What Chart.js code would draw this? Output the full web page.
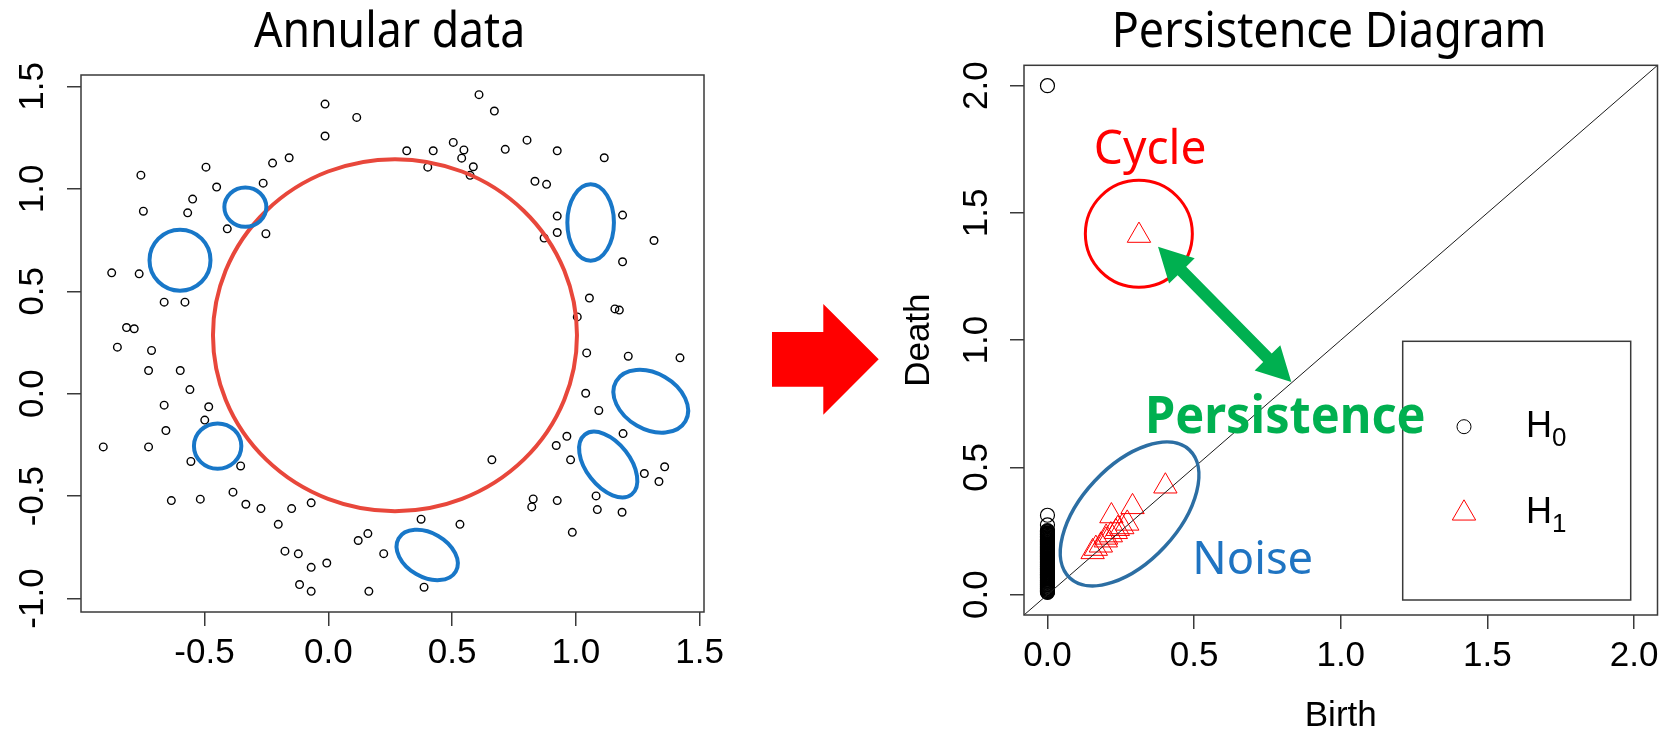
<!DOCTYPE html>
<html>
<head>
<meta charset="utf-8">
<title>Annular data / Persistence Diagram</title>
<script src="https://cdn.jsdelivr.net/npm/chart.js@4.4.1/dist/chart.umd.min.js"></script>
<style>
  html, body { margin: 0; padding: 0; background: #fff; overflow: hidden; }
  #wrap { position: relative; width: 1672px; height: 731px; }
  canvas { position: absolute; top: 0; }
  #annular { left: 0; }
  #diagram { left: 880px; }
</style>
</head>
<body>
<div id="wrap">
  <canvas id="annular" width="880" height="731"></canvas>
  <canvas id="diagram" width="792" height="731"></canvas>
</div>
<script>
// ---- left plot: the annulus sample ----
var leftX = [-0.013, 0.115, -0.013, -0.757, -0.494, -0.158, -0.225, -0.263, -0.451, -0.548, -0.747, -0.568, -0.408, -0.252, -0.875, -0.764, -0.663, -0.579, -0.815, -0.784, -0.852, -0.714,
  0.609, 0.671, 0.317, 0.424, 0.505, 0.548, 0.539, 0.402, 0.586, 0.573, 0.715, 0.803, 0.925, 1.115, 0.835, 0.882, 0.925, 0.925, 0.872, 1.189, 1.316, 1.189, 1.055, 1.158, 1.176, 1.006, 1.044, 1.212, 1.421,
  -0.726, -0.598, -0.559, -0.663, -0.483, -0.499, -0.656, -0.909, -0.726, -0.555, -0.354, -0.634, -0.517, -0.385, -0.333, -0.272, -0.148, -0.069, -0.202, -0.175, -0.121, -0.069, -0.006, -0.116, -0.069, 0.121, 0.160, 0.164, 0.224,
  0.375, 0.532, 0.387, 0.661, 1.040, 1.093, 0.964, 0.921, 0.979, 1.191, 1.277, 1.359, 1.336, 0.828, 0.822, 0.925, 1.082, 1.087, 1.187, 0.986];
var leftY = [1.414, 1.349, 1.258, 1.067, 1.106, 1.152, 1.126, 1.028, 1.009, 0.950, 0.891, 0.883, 0.805, 0.781, 0.590, 0.585, 0.447, 0.447, 0.323, 0.317, 0.227, 0.211,
  1.460, 1.380, 1.186, 1.186, 1.227, 1.190, 1.150, 1.106, 1.108, 1.066, 1.193, 1.238, 1.186, 1.152, 1.037, 1.022, 0.867, 0.787, 0.760, 0.872, 0.748, 0.644, 0.467, 0.414, 0.408, 0.375, 0.199, 0.183, 0.175,
  0.113, 0.113, 0.020, -0.056, -0.064, -0.129, -0.180, -0.260, -0.260, -0.331, -0.353, -0.522, -0.515, -0.481, -0.540, -0.561, -0.561, -0.533, -0.638, -0.769, -0.782, -0.848, -0.827, -0.932, -0.965, -0.717, -0.683, -0.965, -0.781,
  -0.613, -0.638, -0.945, -0.323, 0.002, -0.082, -0.208, -0.253, -0.323, -0.195, -0.390, -0.357, -0.429, -0.514, -0.553, -0.522, -0.499, -0.566, -0.579, -0.677];
var leftXTicks = [-0.5, 0.0, 0.5, 1.0, 1.5];
var leftYTicks = [-1.0, -0.5, 0.0, 0.5, 1.0, 1.5];

// ---- right plot: persistence diagram ----
// every H0 class is born at 0
var h0Birth = [0, 0, 0, 0, 0, 0, 0, 0, 0, 0, 0, 0, 0, 0, 0, 0, 0, 0, 0, 0, 0, 0, 0, 0, 0, 0, 0, 0, 0, 0, 0, 0, 0, 0, 0, 0, 0, 0, 0, 0, 0, 0, 0, 0, 0, 0, 0, 0, 0, 0,
  0, 0, 0, 0, 0, 0, 0, 0, 0, 0, 0, 0, 0, 0, 0, 0, 0, 0, 0, 0, 0, 0, 0, 0, 0, 0, 0, 0, 0, 0, 0, 0, 0, 0, 0, 0, 0, 0, 0, 0, 0, 0, 0, 0, 0, 0, 0, 0, 0, 0];
var h0Death = [2.0, 0.312, 0.274, 0.252, 0.249, 0.247, 0.243, 0.241, 0.238, 0.236, 0.233, 0.229, 0.227, 0.224, 0.222, 0.218, 0.216, 0.213, 0.211, 0.208, 0.205,
  0.203, 0.201, 0.198, 0.196, 0.193, 0.190, 0.188, 0.186, 0.184, 0.181, 0.179, 0.177, 0.174, 0.172, 0.170, 0.168, 0.165, 0.163, 0.161, 0.158,
  0.156, 0.154, 0.151, 0.149, 0.146, 0.144, 0.142, 0.139, 0.137, 0.135, 0.132, 0.129, 0.127, 0.125, 0.122, 0.119, 0.117, 0.114, 0.112, 0.110,
  0.107, 0.104, 0.102, 0.099, 0.097, 0.095, 0.092, 0.089, 0.087, 0.084, 0.081, 0.079, 0.077, 0.074, 0.071, 0.068, 0.066, 0.064, 0.061, 0.058,
  0.055, 0.053, 0.050, 0.048, 0.045, 0.042, 0.039, 0.037, 0.034, 0.032, 0.029, 0.026, 0.024, 0.021, 0.018, 0.016, 0.013, 0.011, 0.009];
var h1Birth = [0.312, 0.402, 0.290, 0.218, 0.272, 0.255, 0.240, 0.233, 0.216, 0.200, 0.199, 0.182, 0.165, 0.154];
var h1Death = [1.411, 0.426, 0.345, 0.309, 0.280, 0.266, 0.259, 0.247, 0.234, 0.225, 0.214, 0.194, 0.181, 0.168];
var pdTicks = [0.0, 0.5, 1.0, 1.5, 2.0];

Chart.defaults.font.family = '"Liberation Sans", Arial, sans-serif';
Chart.defaults.color = '#000';

var boxColor = '#3a3a3a';

function pairs(xs, ys) {
  var out = [];
  for (var i = 0; i < xs.length; i++) {
    out.push({x: xs[i], y: ys[i]});
  }
  return out;
}

function drawBox(ctx, x, y, w, h) {
  ctx.save();
  ctx.strokeStyle = boxColor;
  ctx.lineWidth = 1.5;
  ctx.strokeRect(x, y, w, h);
  ctx.restore();
}

function ring(ctx, cx, cy, rx, ry, rotDeg, color, width) {
  ctx.save();
  ctx.beginPath();
  ctx.ellipse(cx, cy, rx, ry, rotDeg * Math.PI / 180, 0, Math.PI * 2);
  ctx.strokeStyle = color;
  ctx.lineWidth = width;
  ctx.stroke();
  ctx.restore();
}

// text squeezed so its ink is `width` px wide (the original font is narrower than Noto Sans)
function drawText(ctx, text, x, y, font, color, width, align) {
  ctx.save();
  ctx.font = font;
  ctx.fillStyle = color;
  ctx.textAlign = 'left';
  ctx.textBaseline = 'alphabetic';
  var m = ctx.measureText(text);
  var ink = m.actualBoundingBoxLeft + m.actualBoundingBoxRight;
  var sx = width ? width / ink : 1;
  var left = align === 'center' ? x - ink * sx / 2 : x;
  ctx.translate(left + m.actualBoundingBoxLeft * sx, y);
  ctx.scale(sx, 1);
  ctx.fillText(text, 0, 0);
  ctx.restore();
}

function triangle(ctx, x, y, r, color) {
  ctx.save();
  ctx.beginPath();
  ctx.moveTo(x, y - r);
  ctx.lineTo(x + 0.866 * r, y + 0.5 * r);
  ctx.lineTo(x - 0.866 * r, y + 0.5 * r);
  ctx.closePath();
  ctx.strokeStyle = color;
  ctx.lineWidth = 1;
  ctx.stroke();
  ctx.restore();
}

function tickGrid() {
  return { display: true, drawOnChartArea: false, drawTicks: true, tickLength: 14, color: boxColor, lineWidth: 1.5 };
}

var leftDecor = {
  id: 'leftDecor',
  afterDraw: function (chart) {
    var ctx = chart.ctx, a = chart.chartArea, xs = chart.scales.x, ys = chart.scales.y;
    drawBox(ctx, a.left, a.top, a.right - a.left, a.bottom - a.top);

    // the big hole
    ring(ctx, xs.getPixelForValue(0.2695), ys.getPixelForValue(0.2858), 182, 176, 0, '#e8473b', 4);

    // small holes (noise)
    var holes = [
      [-0.599, 0.652, 30.5, 30.5, 0],
      [-0.335, 0.911, 21, 19.7, 0],
      [1.060, 0.836, 23.3, 38.2, 0],
      [-0.447, -0.256, 23.7, 22.7, 0],
      [1.303, -0.037, 40, 28, 30],
      [1.131, -0.346, 38, 22, 52],
      [0.3996, -0.7875, 33, 22, 30]
    ];
    holes.forEach(function (h) {
      ring(ctx, xs.getPixelForValue(h[0]), ys.getPixelForValue(h[1]), h[2], h[3], h[4], '#1877c8', 4);
    });

    drawText(ctx, 'Annular data', 254, 46.7, '49px "Noto Sans"', '#000', 268);

    // block arrow between the two plots
    ctx.save();
    ctx.fillStyle = '#ff0000';
    ctx.beginPath();
    ctx.moveTo(772, 332);
    ctx.lineTo(823.3, 332);
    ctx.lineTo(823.3, 304);
    ctx.lineTo(878.7, 359.3);
    ctx.lineTo(823.3, 414.7);
    ctx.lineTo(823.3, 386.7);
    ctx.lineTo(772, 386.7);
    ctx.closePath();
    ctx.fill();
    ctx.restore();
  }
};

var diagramDecor = {
  id: 'diagramDecor',
  afterDatasetsDraw: function (chart) {
    // birth = death line
    var ctx = chart.ctx, a = chart.chartArea, xs = chart.scales.x, ys = chart.scales.y;
    var lo = Math.max(xs.min, ys.min), hi = Math.min(xs.max, ys.max);
    ctx.save();
    ctx.beginPath();
    ctx.rect(a.left, a.top, a.right - a.left, a.bottom - a.top);
    ctx.clip();
    ctx.strokeStyle = '#1a1a1a';
    ctx.lineWidth = 1;
    ctx.beginPath();
    ctx.moveTo(xs.getPixelForValue(lo), ys.getPixelForValue(lo));
    ctx.lineTo(xs.getPixelForValue(hi), ys.getPixelForValue(hi));
    ctx.stroke();
    ctx.restore();
  },
  afterDraw: function (chart) {
    var ctx = chart.ctx, a = chart.chartArea, xs = chart.scales.x, ys = chart.scales.y;
    drawBox(ctx, a.left, a.top, a.right - a.left, a.bottom - a.top);

    // legend
    drawBox(ctx, a.left + 378.7, a.top + 276, 228, 258.7);
    ctx.save();
    ctx.beginPath();
    ctx.arc(a.left + 440, a.top + 361.4, 7, 0, Math.PI * 2);
    ctx.strokeStyle = '#000';
    ctx.lineWidth = 1;
    ctx.stroke();
    ctx.restore();
    triangle(ctx, a.left + 440, a.top + 448, 13.5, '#ff0000');
    ctx.save();
    ctx.fillStyle = '#000';
    ctx.textAlign = 'left';
    ctx.textBaseline = 'alphabetic';
    ['0', '1'].forEach(function (sub, i) {
      var bx = a.left + 502, by = a.top + 372 + i * 86;
      ctx.font = '36px "Liberation Sans", Arial, sans-serif';
      ctx.fillText('H', bx, by);
      var hw = ctx.measureText('H').width;
      ctx.font = '26px "Liberation Sans", Arial, sans-serif';
      ctx.fillText(sub, bx + hw, by + 8.4);
    });
    ctx.restore();

    // annotations
    ring(ctx, xs.getPixelForValue(0.3116), ys.getPixelForValue(1.418), 53.5, 53.5, 0, '#ff0000', 3);
    ring(ctx, xs.getPixelForValue(0.280), ys.getPixelForValue(0.317), 87.6, 48, -47, '#2c6ea3', 3.5);
    drawText(ctx, 'Cycle', xs.getPixelForValue(0.350), ys.getPixelForValue(1.694), '48px "Noto Sans"', '#ff0000', 108.7, 'center');
    drawText(ctx, 'Noise', xs.getPixelForValue(0.5074), ys.getPixelForValue(0.0828), '46px "Noto Sans"', '#1f74c2', 115);

    // double arrow = persistence
    var p1 = {x: xs.getPixelForValue(0.377), y: ys.getPixelForValue(1.367)};
    var p2 = {x: xs.getPixelForValue(0.8315), y: ys.getPixelForValue(0.8355)};
    var dx = p2.x - p1.x, dy = p2.y - p1.y, len = Math.sqrt(dx * dx + dy * dy);
    var ux = dx / len, uy = dy / len, nx = -uy, ny = ux;
    var hl = 34, hw = 18, sw = 6;
    var pts = [
      [p1.x, p1.y],
      [p1.x + ux * hl + nx * hw, p1.y + uy * hl + ny * hw],
      [p1.x + ux * hl + nx * sw, p1.y + uy * hl + ny * sw],
      [p2.x - ux * hl + nx * sw, p2.y - uy * hl + ny * sw],
      [p2.x - ux * hl + nx * hw, p2.y - uy * hl + ny * hw],
      [p2.x, p2.y],
      [p2.x - ux * hl - nx * hw, p2.y - uy * hl - ny * hw],
      [p2.x - ux * hl - nx * sw, p2.y - uy * hl - ny * sw],
      [p1.x + ux * hl - nx * sw, p1.y + uy * hl - ny * sw],
      [p1.x + ux * hl - nx * hw, p1.y + uy * hl - ny * hw]
    ];
    ctx.save();
    ctx.fillStyle = '#00b050';
    ctx.beginPath();
    pts.forEach(function (p, i) { if (i === 0) ctx.moveTo(p[0], p[1]); else ctx.lineTo(p[0], p[1]); });
    ctx.closePath();
    ctx.fill();
    ctx.restore();
    drawText(ctx, 'Persistence', xs.getPixelForValue(0.3454), ys.getPixelForValue(0.634), 'bold 52px "Noto Sans"', '#00b050', 275);

    drawText(ctx, 'Persistence Diagram', 235.4, 46.7, '49px "Noto Sans"', '#000', 427.6);
  }
};

new Chart(document.getElementById('annular'), {
  type: 'scatter',
  data: {
    datasets: [{
      label: 'Annular data',
      data: pairs(leftX, leftY),
      pointStyle: 'circle',
      pointRadius: 3.8,
      pointHoverRadius: 3.8,
      pointBorderWidth: 1.4,
      pointBorderColor: '#000',
      pointBackgroundColor: 'rgba(0,0,0,0)'
    }]
  },
  options: {
    responsive: false,
    animation: false,
    layout: { padding: { top: 75, right: 176, bottom: 0, left: 0 } },
    plugins: { legend: { display: false }, tooltip: { enabled: false } },
    scales: {
      x: {
        type: 'linear', min: -0.999, max: 1.518,
        afterBuildTicks: function (s) { s.ticks = leftXTicks.map(function (v) { return {value: v}; }); },
        afterFit: function (s) { s.height = 119; },
        ticks: { autoSkip: false, padding: 6, font: { size: 35 }, callback: function (v) { return Number(v).toFixed(1); } },
        grid: tickGrid(),
        border: { display: false }
      },
      y: {
        type: 'linear', min: -1.066, max: 1.556,
        afterBuildTicks: function (s) { s.ticks = leftYTicks.map(function (v) { return {value: v}; }); },
        afterFit: function (s) { s.width = 81; },
        ticks: { autoSkip: false, minRotation: 90, maxRotation: 90, crossAlign: 'center', padding: 4, font: { size: 35 }, callback: function (v) { return Number(v).toFixed(1); } },
        grid: tickGrid(),
        border: { display: false }
      }
    }
  },
  plugins: [leftDecor]
});

new Chart(document.getElementById('diagram'), {
  type: 'scatter',
  data: {
    datasets: [{
      label: 'H0',
      data: pairs(h0Birth, h0Death),
      pointStyle: 'circle',
      pointRadius: 7,
      pointHoverRadius: 7,
      pointBorderWidth: 1.2,
      pointBorderColor: '#000',
      pointBackgroundColor: 'rgba(0,0,0,0)'
    }, {
      label: 'H1',
      data: pairs(h1Birth, h1Death),
      pointStyle: 'triangle',
      pointRadius: 13.5,
      pointHoverRadius: 13.5,
      pointBorderWidth: 1,
      pointBorderColor: '#ff0000',
      pointBackgroundColor: 'rgba(0,0,0,0)'
    }]
  },
  options: {
    responsive: false,
    animation: false,
    layout: { padding: { top: 65.3, right: 8.7, bottom: 0, left: 0 } },
    plugins: { legend: { display: false }, tooltip: { enabled: false } },
    scales: {
      x: {
        type: 'linear', min: -0.08, max: 2.08,
        afterBuildTicks: function (s) { s.ticks = pdTicks.map(function (v) { return {value: v}; }); },
        afterFit: function (s) { s.height = 116; },
        title: { display: true, text: 'Birth', font: { size: 35 }, padding: { top: 0, bottom: -6 } },
        ticks: { autoSkip: false, padding: 6, font: { size: 35 }, callback: function (v) { return Number(v).toFixed(1); } },
        grid: tickGrid(),
        border: { display: false }
      },
      y: {
        type: 'linear', min: -0.08, max: 2.08,
        afterBuildTicks: function (s) { s.ticks = pdTicks.map(function (v) { return {value: v}; }); },
        afterFit: function (s) { s.width = 144; },
        title: { display: true, text: 'Death', font: { size: 35 }, padding: { top: 18, bottom: 0 } },
        ticks: { autoSkip: false, minRotation: 90, maxRotation: 90, crossAlign: 'center', padding: 8, font: { size: 35 }, callback: function (v) { return Number(v).toFixed(1); } },
        grid: tickGrid(),
        border: { display: false }
      }
    }
  },
  plugins: [diagramDecor]
});
</script>
</body>
</html>
